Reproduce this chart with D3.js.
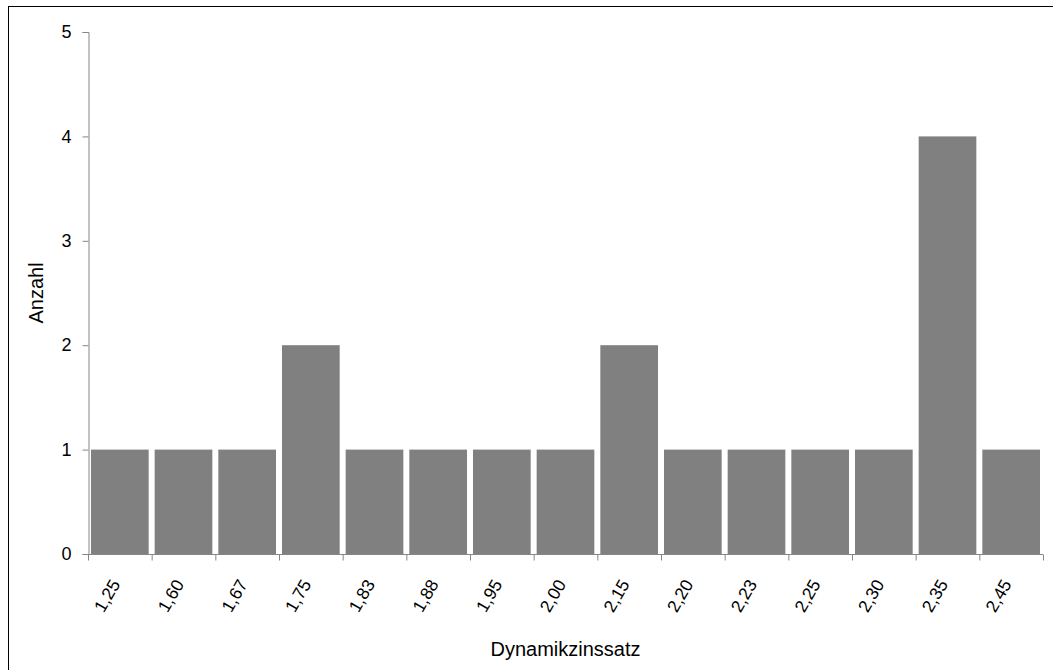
<!DOCTYPE html>
<html>
<head>
<meta charset="utf-8">
<script src="https://cdn.jsdelivr.net/npm/d3@7"></script>
<style>
  body { margin: 0; background: #fff; }
  text { font-family: Arial, "Liberation Sans", sans-serif; fill: #000; }
</style>
</head>
<body>
<div id="chart"></div>
<script>
// Daten
var categories = ['1,25','1,60','1,67','1,75','1,83','1,88','1,95','2,00','2,15','2,20','2,23','2,25','2,30','2,35','2,45'];
var counts = [1, 1, 1, 2, 1, 1, 1, 1, 2, 1, 1, 1, 1, 4, 1];
var yTicks = [0, 1, 2, 3, 4, 5];

var W = 1053, H = 670;
var plotLeft = 88, plotRight = 1043, plotTop = 32, plotBottom = 554;

var svg = d3.select('#chart').append('svg')
            .attr('width', W)
            .attr('height', H);

// Rahmen
svg.append('rect')
   .attr('x', 8.5).attr('y', 6.5)
   .attr('width', 1060).attr('height', 700)
   .attr('fill', 'none')
   .attr('stroke', '#000')
   .attr('stroke-width', 1);

var x = d3.scaleBand().domain(categories).range([plotLeft, plotRight]).padding(0);
var xBar = d3.scaleBand().domain(categories).range([plotLeft, plotRight])
             .paddingInner(0.094).paddingOuter(0.047);
var y = d3.scaleLinear().domain([0, 5]).range([plotBottom, plotTop]);

// Balken
svg.append('g').selectAll('rect')
   .data(counts)
   .join('rect')
   .attr('x', function(d, i) { return xBar(categories[i]); })
   .attr('width', xBar.bandwidth())
   .attr('y', function(d) { return y(d); })
   .attr('height', function(d) { return y(0) - y(d); })
   .attr('fill', '#808080');

// Y-Achse
var yAxis = svg.append('g')
   .attr('transform', 'translate(' + (plotLeft + 0.5) + ',0)')
   .call(d3.axisLeft(y).tickValues(yTicks).tickSize(6).tickPadding(11).tickFormat(d3.format('d')));
yAxis.select('.domain').attr('stroke', '#868686');
yAxis.selectAll('.tick line').attr('stroke', '#868686');
yAxis.selectAll('text').style('font-size', '18px').attr('fill', '#000');

// X-Achse: Striche zwischen den Kategorien
var xg = svg.append('g').attr('transform', 'translate(0,' + (plotBottom + 0.5) + ')');
xg.append('line')
  .attr('x1', plotLeft).attr('x2', plotRight)
  .attr('stroke', '#868686');
xg.selectAll('line.tk')
  .data(categories.concat(['__end']))
  .join('line')
  .attr('class', 'tk')
  .attr('x1', function(d, i) { return plotLeft + i * x.step() + 0.5; })
  .attr('x2', function(d, i) { return plotLeft + i * x.step() + 0.5; })
  .attr('y1', 0).attr('y2', 6)
  .attr('stroke', '#868686');

xg.selectAll('text')
  .data(categories)
  .join('text')
  .attr('transform', function(d) {
      return 'translate(' + (x(d) + x.bandwidth() / 2 + 1) + ',' + 29.5 + ') rotate(-60)';
  })
  .attr('text-anchor', 'end')
  .style('font-size', '17.5px')
  .text(function(d) { return d; });

// Achsentitel
svg.append('text')
   .attr('x', (plotLeft + plotRight) / 2)
   .attr('y', 656)
   .attr('text-anchor', 'middle')
   .style('font-size', '20px')
   .text('Dynamikzinssatz');

svg.append('text')
   .attr('transform', 'translate(43,' + (plotTop + plotBottom) / 2 + ') rotate(-90)')
   .attr('text-anchor', 'middle')
   .style('font-size', '20px')
   .text('Anzahl');
</script>
</body>
</html>
